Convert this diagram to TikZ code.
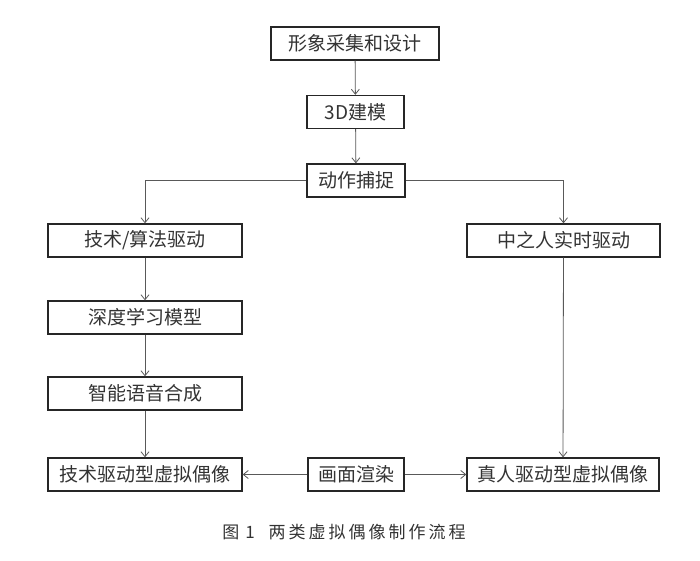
\documentclass[tikz,border=0pt]{standalone}
\usepackage{fontspec}
\setmainfont{Noto Sans CJK SC}
\usetikzlibrary{arrows.meta}
\newcommand{\cgap}{\hspace{3pt}}
\begin{document}
\begin{tikzpicture}[x=1pt,y=-1pt,
  box/.style={draw=black!85, line width=1.3pt, inner sep=0pt, minimum height=33pt,
    text=black!80, font=\fontsize{19}{19}\selectfont},
  conn/.style={draw=black!65, line width=0.8pt, -{Straight Barb[length=5pt,width=8pt]}}]
\useasboundingbox[fill=white] (0,0) rectangle (700,561);
\node[box, minimum width=168pt] (b1) at (355,43.5) {形象采集和设计};
\node[box, minimum width=97pt] (b2) at (355.5,112) {3D建模};
\node[box, minimum width=98pt] (b3) at (356,180.5) {动作捕捉};
\node[box, minimum width=194pt] (b4) at (145,240.5) {技术/算法驱动};
\node[box, minimum width=193pt] (b5) at (563.5,240.5) {中之人实时驱动};
\node[box, minimum width=194pt] (b6) at (145,317.5) {深度学习模型};
\node[box, minimum width=194pt] (b7) at (145,393.5) {智能语音合成};
\node[box, minimum width=194pt] (b8) at (145,474.5) {技术驱动型虚拟偶像};
\node[box, minimum width=96pt] (b9) at (356,474.5) {画面渲染};
\node[box, minimum width=192pt] (b10) at (563,474.5) {真人驱动型虚拟偶像};
\node[text=black!80, font=\fontsize{17}{17}\selectfont, inner sep=0pt] (cap) at (344,532)
  {图\hspace{6pt}1\hspace{14pt}两\cgap 类\cgap 虚\cgap 拟\cgap 偶\cgap 像\cgap 制\cgap 作\cgap 流\cgap 程};
\draw[conn] (b1) -- (b2);
\draw[conn] (b2) -- (b3);
\draw[conn] (b3.west) -| (b4.north);
\draw[conn] (b3.east) -| (b5.north);
\draw[conn] (b4) -- (b6);
\draw[conn] (b6) -- (b7);
\draw[conn] (b7) -- (b8);
\draw[conn] (b5) -- (b10);
\draw[conn] (b9) -- (b8);
\draw[conn] (b9) -- (b10);
\end{tikzpicture}
\end{document}
